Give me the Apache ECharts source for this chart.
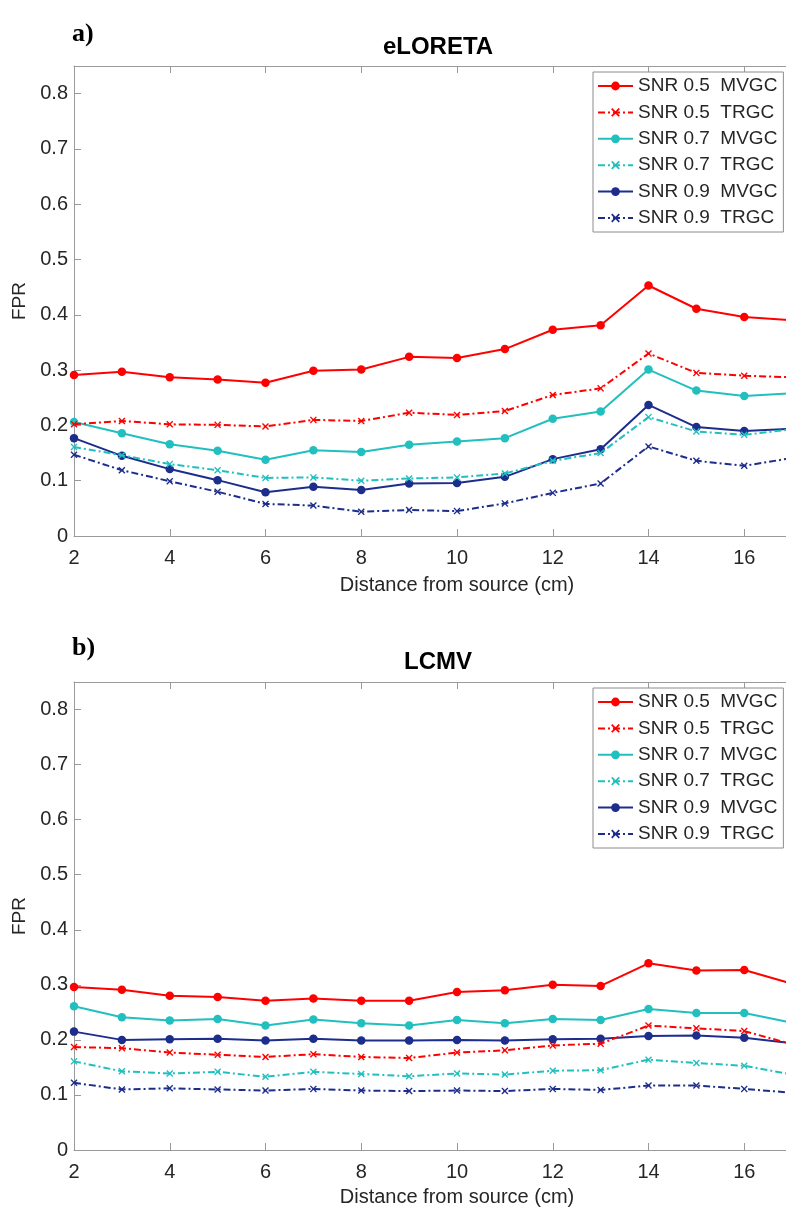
<!DOCTYPE html>
<html><head><meta charset="utf-8">
<script src="https://cdn.jsdelivr.net/npm/echarts@6/dist/echarts.min.js"></script>
<style>html,body{margin:0;padding:0;overflow:hidden;background:#fff}#c{width:860px;height:1210px}</style>
</head><body><div id="c"></div><script>
// ---- data ----
const xValues = [2,3,4,5,6,7,8,9,10,11,12,13,14,15,16,17];
const yTicks = [0,0.1,0.2,0.3,0.4,0.5,0.6,0.7,0.8];
const seriesNames = ['SNR 0.5  MVGC','SNR 0.5  TRGC','SNR 0.7  MVGC','SNR 0.7  TRGC','SNR 0.9  MVGC','SNR 0.9  TRGC'];
const panelTitles = ['eLORETA','LCMV'];
const panelLetters = ['a)','b)'];
const xLabel = 'Distance from source (cm)';
const yLabel = 'FPR';

// eLORETA
const eloSnr05Mvgc = [0.291,0.297,0.287,0.283,0.277,0.299,0.301,0.324,0.322,0.338,0.373,0.381,0.453,0.411,0.396,0.390];
const eloSnr05Trgc = [0.202,0.208,0.202,0.201,0.198,0.210,0.208,0.223,0.219,0.226,0.255,0.267,0.330,0.295,0.290,0.287];
const eloSnr07Mvgc = [0.206,0.186,0.166,0.154,0.138,0.155,0.152,0.165,0.171,0.177,0.212,0.225,0.301,0.263,0.253,0.258];
const eloSnr07Trgc = [0.161,0.146,0.130,0.119,0.105,0.106,0.100,0.104,0.106,0.113,0.136,0.150,0.215,0.189,0.183,0.193];
const eloSnr09Mvgc = [0.177,0.145,0.121,0.101,0.079,0.089,0.083,0.095,0.096,0.107,0.139,0.157,0.237,0.197,0.190,0.194];
const eloSnr09Trgc = [0.147,0.119,0.099,0.080,0.058,0.055,0.044,0.047,0.045,0.059,0.078,0.095,0.162,0.136,0.127,0.141];
// LCMV
const lcmvSnr05Mvgc = [0.296,0.291,0.280,0.278,0.271,0.275,0.271,0.271,0.287,0.290,0.300,0.298,0.339,0.326,0.327,0.302];
const lcmvSnr05Trgc = [0.187,0.185,0.177,0.173,0.169,0.174,0.169,0.167,0.177,0.181,0.190,0.193,0.226,0.221,0.216,0.192];
const lcmvSnr07Mvgc = [0.261,0.241,0.235,0.238,0.226,0.237,0.230,0.226,0.236,0.230,0.238,0.236,0.256,0.249,0.249,0.231];
const lcmvSnr07Trgc = [0.161,0.143,0.139,0.142,0.133,0.142,0.138,0.134,0.139,0.137,0.144,0.145,0.164,0.158,0.153,0.137];
const lcmvSnr09Mvgc = [0.215,0.200,0.201,0.202,0.199,0.202,0.199,0.199,0.200,0.199,0.201,0.202,0.207,0.208,0.204,0.194];
const lcmvSnr09Trgc = [0.122,0.110,0.112,0.110,0.108,0.111,0.108,0.107,0.108,0.107,0.111,0.109,0.117,0.117,0.111,0.104];

const panels = [
  [eloSnr05Mvgc, eloSnr05Trgc, eloSnr07Mvgc, eloSnr07Trgc, eloSnr09Mvgc, eloSnr09Trgc],
  [lcmvSnr05Mvgc, lcmvSnr05Trgc, lcmvSnr07Mvgc, lcmvSnr07Trgc, lcmvSnr09Mvgc, lcmvSnr09Trgc]
];

// ---- style ----
const colors = ['#ff0000','#ff0000','#22bfbf','#22bfbf','#1c2d8c','#1c2d8c'];
const isTrgc = [false,true,false,true,false,true];
const xSym = 'path://M0,1.4L1.4,0L5,3.6L8.6,0L10,1.4L6.4,5L10,8.6L8.6,10L5,6.4L1.4,10L0,8.6L3.6,5Z';
const FONT = 'Liberation Sans, Arial, sans-serif';
const axisGrey = '#9a9a9a';
const txt = '#262626';

const grids = [
  {left:74, top:66, width:766, height:470},
  {left:74, top:682, width:766, height:468}
];

const xAxes = [], yAxes = [], series = [], titles = [], legends = [];
grids.forEach((g, i) => {
  xAxes.push({
    gridIndex:i, type:'value', min:2, max:18, interval:2, position:'bottom',
    name: xLabel, nameLocation:'middle', nameGap: i===0 ? 39 : 37,
    nameTextStyle:{fontFamily:FONT, fontSize:20, color:txt},
    axisLine:{lineStyle:{color:axisGrey, width:1}},
    axisTick:{inside:true, length:7, lineStyle:{color:axisGrey}},
    axisLabel:{fontFamily:FONT, fontSize:20, color:txt, margin:12},
    splitLine:{show:false}
  });
  xAxes.push({
    gridIndex:i, type:'value', min:2, max:18, interval:2, position:'top',
    axisLine:{lineStyle:{color:axisGrey, width:1}},
    axisTick:{inside:true, length:7, lineStyle:{color:axisGrey}},
    axisLabel:{show:false}, splitLine:{show:false}
  });
  yAxes.push({
    gridIndex:i, type:'value', min:0, max:0.85, interval:0.1,
    name: yLabel, nameLocation:'middle', nameGap:43, nameRotate:90,
    nameTextStyle:{fontFamily:FONT, fontSize:19, color:txt},
    axisLine:{show:true, lineStyle:{color:axisGrey, width:1}},
    axisTick:{show:true, inside:true, length:7, lineStyle:{color:axisGrey}},
    axisLabel:{fontFamily:FONT, fontSize:20, color:txt, margin:6,
      formatter:v => (v > 0.801 ? '' : (v === 0 ? '0' : v.toFixed(1)))},
    splitLine:{show:false}
  });
  titles.push({text:panelTitles[i], left:433, top: i===0 ? 30 : 645, textAlign:'center',
    textStyle:{fontFamily:FONT, fontSize:24, fontWeight:'bold', color:'#000'}});
  titles.push({text:panelLetters[i], left:67, top: i===0 ? 16 : 630,
    textStyle:{fontFamily:'Liberation Serif, serif', fontSize:26, fontWeight:'bold', color:'#000'}});
  legends.push({
    left:593, top: i===0 ? 72 : 688, orient:'vertical',
    padding:[4,6,4,4], itemGap:6.4, itemWidth:35, itemHeight:11,
    backgroundColor:'#fff', borderColor:'#8c8c8c', borderWidth:1,
    textStyle:{fontFamily:FONT, fontSize:19, color:txt, lineHeight:20},
    data: seriesNames, selectedMode:false
  });
  panels[i].forEach((vals, k) => {
    series.push({
      name: seriesNames[k], type:'line', xAxisIndex:i*2, yAxisIndex:i,
      data: xValues.map((x, j) => [x, vals[j]]),
      symbol: isTrgc[k] ? xSym : 'circle',
      symbolSize: isTrgc[k] ? 7 : 8.5,
      showAllSymbol:true,
      lineStyle:{color:colors[k], width:2, type: isTrgc[k] ? [7,3,2,3] : 'solid'},
      itemStyle:{color:colors[k]},
      z: 10 - k
    });
  });
});

const chart = echarts.init(document.getElementById('c'), null, {renderer:'canvas'});
chart.setOption({
  animation:false,
  backgroundColor:'#fff',
  title: titles,
  legend: legends,
  grid: grids,
  xAxis: xAxes,
  yAxis: yAxes,
  series: series
});
</script></body></html>
